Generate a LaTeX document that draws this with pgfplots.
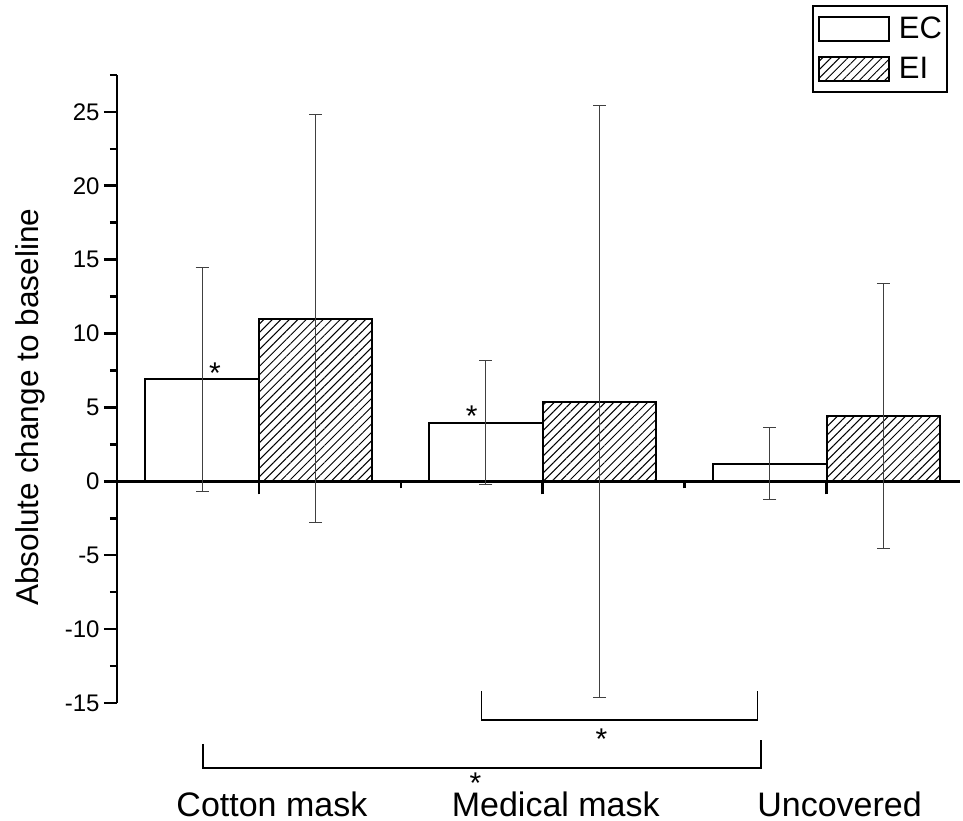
\documentclass[border=0pt]{standalone}
\usepackage{fontspec}
\setmainfont{Liberation Sans}
\usepackage{pgfplots}
\pgfplotsset{compat=1.18}
\usetikzlibrary{patterns.meta}

% group, EC mean/err, EI mean/err
\pgfplotstableread{
x ec ecerr ei eierr
0 6.89 7.60 11.00 13.80
1 3.97 4.20 5.40 20.04
2 1.20 2.42 4.42 8.98
}\masks

\begin{document}
\begin{tikzpicture}
\begin{axis}[
  scale only axis, width=421.5pt, height=314pt,
  xmin=-0.5, xmax=2.47, ymin=-15, ymax=27.5,
  axis y line*=left, axis x line*=middle,
  axis line style={line width=1.3pt},
  every tick/.style={black, line width=1.3pt},
  tick align=outside,
  major tick length=6.5pt, minor tick length=3.5pt,
  ytick={-15,-10,...,25}, minor ytick={-12.5,-7.5,...,27.5},
  xtick={0,1,2}, minor xtick={0.5,1.5},
  xticklabels={Cotton mask, Medical mask, Uncovered},
  xticklabel style={font=\fontsize{17}{20}\selectfont, anchor=base, xshift=6.5pt, yshift=-161pt},
  yticklabel style={font=\fontsize{12}{14}\selectfont, inner sep=2pt},
  /pgf/number format/assume math mode=true,
  ylabel={Absolute change to baseline},
  ylabel style={font=\fontsize{15.8}{18}\selectfont, at={(rel axis cs:-0.1032,0.471)}, anchor=center},
  ybar=0pt, bar width=0.4,
  clip=false,
  legend style={at={(rel axis cs:0.9858,1.1115)}, anchor=north east, draw=black, line width=1pt,
    font=\fontsize{15.5}{18}\selectfont, inner xsep=2.5pt, inner ysep=5pt,
    row sep=7pt, column sep=4.5pt, nodes={inner sep=0pt}},
  legend cell align=left,
  legend image code/.code={\draw[#1, line width=1pt] (0pt,-6pt) rectangle (35pt,6pt);},
]
\addplot[draw=black, line width=1pt, fill=white,
  error bars/.cd, y dir=both, y explicit,
  error bar style={line width=0.5pt, black!75},
  error mark options={rotate=90, mark size=3.25pt, line width=0.5pt, black!75}]
  table[x=x, y=ec, y error=ecerr] {\masks};
\addplot[draw=black, line width=1pt, pattern={Lines[angle=45,distance=3pt,line width=0.5pt]},
  error bars/.cd, y dir=both, y explicit,
  error bar style={line width=0.5pt, black!75},
  error mark options={rotate=90, mark size=3.25pt, line width=0.5pt, black!75}]
  table[x=x, y=ei, y error=eierr] {\masks};
\legend{EC\hspace{2pt}, EI}

% significance marks
\node[font=\fontsize{15}{18}\selectfont, anchor=base, inner sep=0pt] at (axis cs:-0.155,6.59) {*};
\node[font=\fontsize{15}{18}\selectfont, anchor=base, inner sep=0pt] at (axis cs:0.750,3.71) {*};
\node[font=\fontsize{15}{18}\selectfont, anchor=base, inner sep=0pt] at (axis cs:1.207,-18.14) {*};
\node[font=\fontsize{15}{18}\selectfont, anchor=base, inner sep=0pt] at (axis cs:0.763,-21.13) {*};
\draw[line width=0.85pt] (axis cs:0.784,-14.19) -- (axis cs:0.784,-16.15) -- (axis cs:1.757,-16.15) -- (axis cs:1.757,-14.19);
\draw[line width=0.85pt] (axis cs:-0.196,-17.77) -- (axis cs:-0.196,-19.38) -- (axis cs:1.770,-19.38) -- (axis cs:1.770,-17.50);

\coordinate (bbl) at (rel axis cs:-0.1388,-0.1879);
\coordinate (btr) at (rel axis cs:1.0036,1.1194);
\end{axis}
\pgfresetboundingbox
\path[use as bounding box] (bbl) rectangle (btr);
\end{tikzpicture}
\end{document}
